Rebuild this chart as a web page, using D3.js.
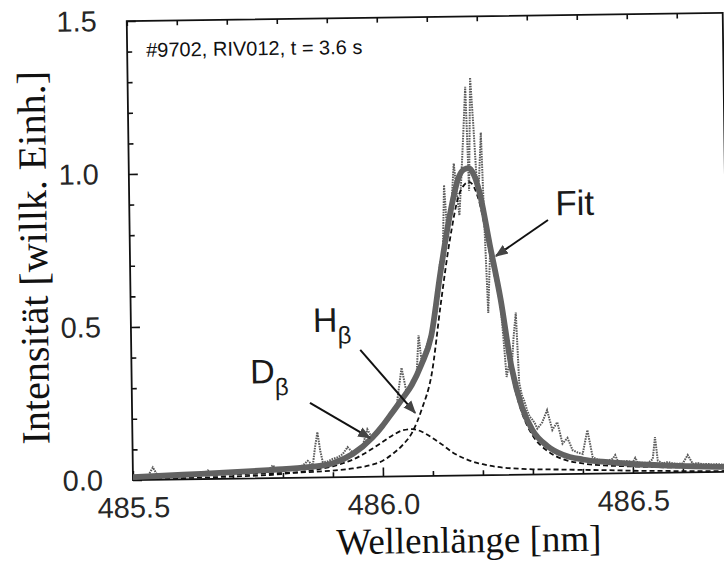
<!DOCTYPE html>
<html><head><meta charset="utf-8">
<script src="https://cdn.jsdelivr.net/npm/d3@7"></script>
<style>html,body{margin:0;padding:0;background:#fff;} svg{display:block;}</style>
</head><body>
<svg id="chart" width="724" height="565"></svg>
<script>
// ---- data ----
const xMajorTicks = [485.5, 486.0, 486.5];
const yMajorTicks = [0.0, 0.5, 1.0, 1.5];
const xTitle = "Wellenlänge [nm]";
const yTitle = "Intensität [willk. Einh.]";
const annotation = "#9702, RIV012, t = 3.6 s";

const modelLambda = [485.50,485.60,485.70,485.78,485.85,485.90,485.94,485.98,486.00,486.02,486.04,486.06,486.08,486.10,486.12,486.14,486.16,486.17,486.18,486.19,486.20,486.22,486.24,486.26,486.28,486.30,486.33,486.36,486.40,486.45,486.50,486.56,486.62,486.69];
const fitValues   = [0.009,0.015,0.021,0.027,0.034,0.046,0.075,0.128,0.165,0.208,0.252,0.298,0.365,0.455,0.660,0.845,0.977,1.000,1.004,0.982,0.930,0.752,0.575,0.352,0.220,0.146,0.092,0.064,0.047,0.037,0.030,0.024,0.020,0.016];
const hbetaValues = [0.006,0.011,0.014,0.016,0.018,0.022,0.028,0.040,0.052,0.074,0.102,0.144,0.221,0.331,0.559,0.769,0.919,0.949,0.959,0.942,0.894,0.723,0.551,0.331,0.201,0.129,0.076,0.049,0.034,0.026,0.022,0.018,0.016,0.013];
const dbetaValues = [0.003,0.004,0.007,0.011,0.022,0.036,0.057,0.092,0.113,0.134,0.150,0.154,0.144,0.124,0.101,0.076,0.058,0.051,0.045,0.040,0.036,0.029,0.024,0.021,0.019,0.017,0.016,0.015,0.013,0.011,0.008,0.006,0.004,0.003];

const dataLambda = [485.50,485.51,485.52,485.53,485.54,485.55,485.56,485.57,485.58,485.59,485.60,485.61,485.62,485.63,485.64,485.65,485.66,485.67,485.68,485.69,485.70,485.71,485.72,485.73,485.74,485.75,485.76,485.77,485.78,485.79,485.80,485.81,485.82,485.83,485.84,485.85,485.86,485.865,485.87,485.875,485.88,485.89,485.90,485.91,485.92,485.93,485.94,485.95,485.96,485.97,485.98,485.99,486.00,486.01,486.02,486.03,486.04,486.05,486.06,486.07,486.075,486.08,486.09,486.100,486.105,486.110,486.115,486.120,486.125,486.130,486.135,486.140,486.145,486.150,486.155,486.160,486.165,486.170,486.175,486.180,486.185,486.190,486.195,486.200,486.205,486.210,486.215,486.220,486.225,486.230,486.235,486.240,486.245,486.250,486.255,486.260,486.265,486.270,486.275,486.280,486.285,486.290,486.295,486.300,486.305,486.31,486.32,486.33,486.34,486.35,486.36,486.37,486.38,486.39,486.40,486.41,486.42,486.43,486.44,486.45,486.46,486.465,486.47,486.48,486.49,486.50,486.505,486.51,486.52,486.53,486.54,486.545,486.55,486.56,486.57,486.58,486.59,486.60,486.61,486.62,486.63,486.64,486.65,486.66,486.67,486.68,486.69];
const dataValues = [0.012,0.010,0.011,0.012,0.040,0.012,0.011,0.012,0.013,0.012,0.014,0.013,0.014,0.015,0.016,0.028,0.015,0.016,0.018,0.017,0.019,0.018,0.020,0.019,0.021,0.022,0.021,0.024,0.042,0.025,0.027,0.035,0.030,0.034,0.040,0.055,0.040,0.100,0.148,0.090,0.050,0.052,0.060,0.065,0.075,0.098,0.080,0.090,0.100,0.155,0.125,0.150,0.170,0.195,0.205,0.240,0.355,0.270,0.310,0.330,0.460,0.380,0.420,0.470,0.500,0.580,0.620,0.700,0.680,0.950,0.800,0.840,0.900,1.020,0.930,0.850,0.980,1.120,1.270,0.930,1.300,1.150,0.980,0.960,1.120,0.800,0.530,0.720,0.700,0.660,0.620,0.550,0.440,0.320,0.360,0.340,0.450,0.530,0.300,0.260,0.240,0.210,0.190,0.180,0.168,0.150,0.170,0.210,0.145,0.170,0.100,0.118,0.078,0.070,0.065,0.143,0.054,0.046,0.044,0.042,0.048,0.060,0.040,0.038,0.040,0.036,0.050,0.035,0.034,0.033,0.045,0.117,0.040,0.031,0.035,0.030,0.029,0.030,0.057,0.028,0.030,0.026,0.027,0.025,0.026,0.024,0.025];

// ---- layout ----
const mLeft = 133, mRight = 729, mTop = 21, mBottom = 480;
const xDomainEnd = 485.5 + (mRight - mLeft) / 500;

const svg = d3.select("#chart");
const defs = svg.append("defs");
const g = svg.append("g").attr("transform", `rotate(-0.78, ${mLeft}, ${mBottom})`);

const x = d3.scaleLinear().domain([485.5, xDomainEnd]).range([mLeft, mRight]);
const y = d3.scaleLinear().domain([0, 1.5]).range([mBottom, mTop]);

const xMinor = d3.range(485.5, xDomainEnd + 1e-9, 0.1).map(v => +v.toFixed(2)).filter(v => !xMajorTicks.some(m => Math.abs(m - v) < 1e-6));
const yMinor = d3.range(0, 1.5 + 1e-9, 0.1).map(v => +v.toFixed(2)).filter(v => !yMajorTicks.some(m => Math.abs(m - v) < 1e-6));

const tickFont = "'Liberation Sans', Arial, sans-serif";

function styleAxis(sel) {
  sel.select(".domain").remove();
  sel.selectAll(".tick line").attr("stroke", "#111").attr("stroke-width", 1.6);
  sel.selectAll(".tick text").attr("font-family", tickFont).attr("font-size", 29).attr("fill", "#262626");
}

// bottom axis
g.append("g").attr("transform", `translate(0,${mBottom})`)
  .call(d3.axisBottom(x).tickValues(xMajorTicks).tickFormat(d3.format(".1f")).tickSizeInner(-9).tickSizeOuter(0).tickPadding(17))
  .call(styleAxis);
g.append("g").attr("transform", `translate(0,${mBottom})`)
  .call(d3.axisBottom(x).tickValues(xMinor).tickFormat("").tickSizeInner(-5).tickSizeOuter(0))
  .call(styleAxis);
// top axis
g.append("g").attr("transform", `translate(0,${mTop})`)
  .call(d3.axisTop(x).tickValues(xMajorTicks.concat(xMinor)).tickFormat("").tickSizeInner(-5).tickSizeOuter(0))
  .call(styleAxis);
// left axis
g.append("g").attr("transform", `translate(${mLeft},0)`)
  .call(d3.axisLeft(y).tickValues(yMajorTicks).tickFormat(d3.format(".1f")).tickSizeInner(-9).tickSizeOuter(0).tickPadding(30))
  .call(styleAxis);
g.append("g").attr("transform", `translate(${mLeft},0)`)
  .call(d3.axisLeft(y).tickValues(yMinor).tickFormat("").tickSizeInner(-5).tickSizeOuter(0))
  .call(styleAxis);

// frame
g.append("rect").attr("x", mLeft).attr("y", mTop).attr("width", mRight - mLeft).attr("height", mBottom - mTop)
  .attr("fill", "none").attr("stroke", "#111").attr("stroke-width", 1.8);

// clip
defs.append("clipPath").attr("id", "clip").append("rect")
  .attr("x", mLeft).attr("y", mTop - 60).attr("width", mRight - mLeft).attr("height", mBottom - mTop + 60);
const plot = g.append("g").attr("clip-path", "url(#clip)");

const lineModel = vals => d3.line().curve(d3.curveMonotoneX)
  .x((d, i) => x(modelLambda[i])).y((d, i) => y(vals[i]))(vals);

// measured data (dotted gray)
plot.append("path")
  .attr("d", d3.line().x((d, i) => x(dataLambda[i])).y(d => y(d))(dataValues))
  .attr("fill", "none").attr("stroke", "#5c5c5c").attr("stroke-width", 2)
  .attr("stroke-dasharray", "1.6,1");

// components (dashed black)
[dbetaValues, hbetaValues].forEach(vals => {
  plot.append("path").attr("d", lineModel(vals))
    .attr("fill", "none").attr("stroke", "#111").attr("stroke-width", 1.8)
    .attr("stroke-dasharray", "5,3");
});

// fit (thick gray)
plot.append("path").attr("d", lineModel(fitValues))
  .attr("fill", "none").attr("stroke", "#626262").attr("stroke-width", 5.8)
  .attr("stroke-linejoin", "round");

// ---- annotations ----
defs.append("marker").attr("id", "arrow").attr("viewBox", "0 0 10 10")
  .attr("refX", 9).attr("refY", 5).attr("markerWidth", 13).attr("markerHeight", 13)
  .attr("markerUnits", "userSpaceOnUse").attr("orient", "auto")
  .append("path").attr("d", "M0,1 L10,5 L0,9 z").attr("fill", "#444");

function arrow(l1, v1, l2, v2) {
  g.append("line").attr("x1", x(l1)).attr("y1", y(v1)).attr("x2", x(l2)).attr("y2", y(v2))
    .attr("stroke", "#111").attr("stroke-width", 2).attr("marker-end", "url(#arrow)");
}
arrow(486.337, 0.831, 486.232, 0.716);
arrow(485.958, 0.415, 486.066, 0.207);
arrow(485.856, 0.244, 485.975, 0.127);

const labelFont = "'Liberation Sans', Arial, sans-serif";
g.append("text").attr("x", x(486.352)).attr("y", y(0.846)).text("Fit")
  .attr("font-family", labelFont).attr("font-size", 35).attr("fill", "#1a1a1a");

function subLabel(main, sub, l, v) {
  const t = g.append("text").attr("x", x(l)).attr("y", y(v))
    .attr("font-family", labelFont).attr("font-size", 34).attr("fill", "#1a1a1a");
  t.append("tspan").text(main);
  t.append("tspan").text(sub).attr("font-size", 24).attr("dy", 12);
}
subLabel("H", "β", 485.864, 0.476);
subLabel("D", "β", 485.737, 0.310);

g.append("text").attr("x", 152).attr("y", 57).text(annotation)
  .attr("font-family", labelFont).attr("font-size", 20).attr("fill", "#111");

// axis titles
const titleFont = "'Liberation Serif', 'Times New Roman', serif";
g.append("text").attr("x", 468).attr("y", 557).attr("text-anchor", "middle")
  .attr("font-family", titleFont).attr("font-size", 37).attr("fill", "#111").text(xTitle);
g.append("text").attr("transform", `translate(50, ${(mTop + mBottom) / 2 + 6}) rotate(-90)`)
  .attr("text-anchor", "middle")
  .attr("font-family", titleFont).attr("font-size", 40).attr("fill", "#111").text(yTitle);
</script>
</body></html>
